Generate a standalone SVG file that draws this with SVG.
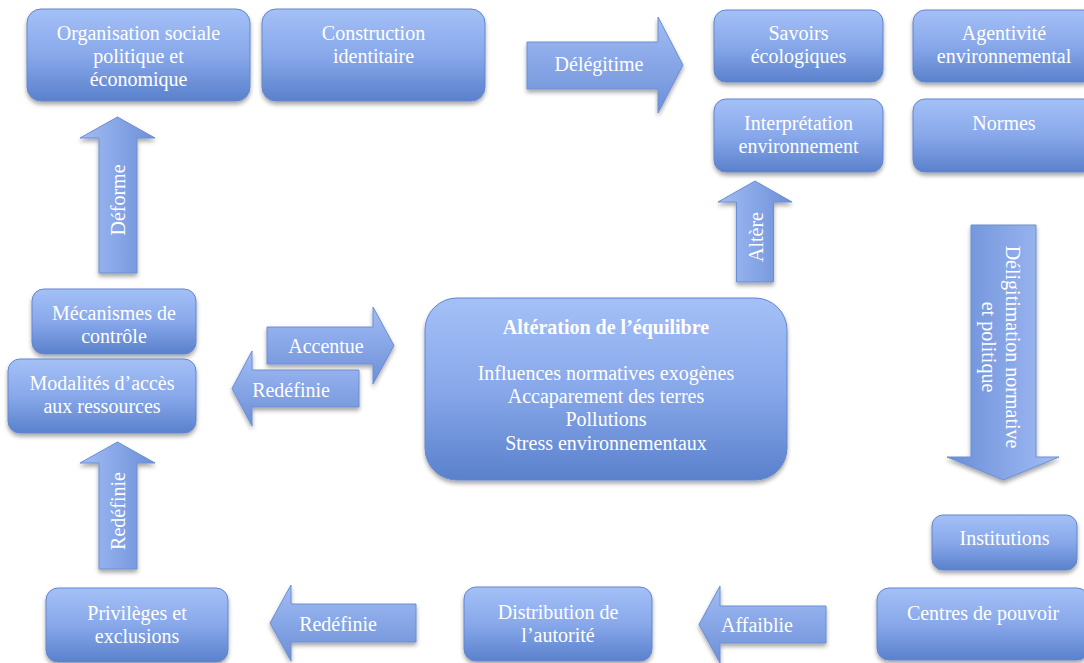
<svg xmlns="http://www.w3.org/2000/svg" width="1084" height="663" viewBox="0 0 1084 663">
<defs>
<linearGradient id="gBox" x1="0" y1="0" x2="0" y2="1">
<stop offset="0" stop-color="#a4c0f7"/>
<stop offset="0.5" stop-color="#88a8ea"/>
<stop offset="1" stop-color="#5a81cc"/>
</linearGradient>
<linearGradient id="gArrH" x1="0" y1="0" x2="0" y2="1">
<stop offset="0" stop-color="#a2bdf5"/>
<stop offset="1" stop-color="#6c8fd7"/>
</linearGradient>
<linearGradient id="gArrUp" x1="0" y1="0" x2="1" y2="0">
<stop offset="0" stop-color="#a2bdf5"/>
<stop offset="1" stop-color="#6c8fd7"/>
</linearGradient>
<linearGradient id="gArrDown" x1="0" y1="0" x2="1" y2="0">
<stop offset="0" stop-color="#6a8dd6"/>
<stop offset="1" stop-color="#a2bdf5"/>
</linearGradient>
<filter id="sh" x="-10%" y="-10%" width="120%" height="130%">
<feDropShadow dx="0" dy="3" stdDeviation="2" flood-color="#000" flood-opacity="0.35"/>
</filter>
</defs>
<style>
.box{fill:url(#gBox);stroke:#6285cf;stroke-width:1;filter:url(#sh)}
.arr{stroke:#6a8ed5;stroke-width:1;filter:url(#sh)}
.h{fill:url(#gArrH)}
.up{fill:url(#gArrUp)}
.dn{fill:url(#gArrDown)}
text{font-family:"Liberation Serif","Times New Roman",serif;font-size:20px;fill:#ffffff;text-anchor:middle}
.b{font-weight:bold}
</style>
<rect width="1084" height="663" fill="#ffffff"/>

<g id="connectors">
<polygon class="arr h" points="527,42 658,42 658,17 683,65 658,113 658,89 527,89"/>
<text x="599" y="71">Délégitime</text>
<polygon class="arr up" points="99,273 99,138 80,138 117.5,117 155,138 137,138 137,273"/>
<text transform="translate(119,200) rotate(-90)" x="0" y="6">Déforme</text>
<polygon class="arr up" points="736.5,282 736.5,202 718,202 755,181 792,202 773.5,202 773.5,282"/>
<text transform="translate(757,237) rotate(-90)" x="0" y="6">Altère</text>
<polygon class="arr dn" points="971,225 1036,225 1036,457 1059,457 1003.5,480 947,457 971,457"/>
<text transform="translate(1000,347) rotate(90)"><tspan x="0" y="-6">Déligitimation normative</tspan><tspan x="0" y="18">et politique</tspan></text>
<polygon class="arr h" points="267,327 373,327 373,307 394,345.5 373,384 373,364 267,364"/>
<text x="326" y="353">Accentue</text>
<polygon class="arr h" points="359,370 252,370 252,351 232,388.5 252,426 252,407 359,407"/>
<text x="291" y="397">Redéfinie</text>
<polygon class="arr up" points="99,569 99,463 80,463 117.5,442 155,463 137,463 137,569"/>
<text transform="translate(119,511) rotate(-90)" x="0" y="6">Redéfinie</text>
<polygon class="arr h" points="416,604 291,604 291,585 270,623 291,661 291,642 416,642"/>
<text x="338" y="631">Redéfinie</text>
<polygon class="arr h" points="826,606 720,606 720,586 699,624.5 720,663 720,643 826,643"/>
<text x="757" y="632">Affaiblie</text>
</g>

<g id="n-organisation">
<rect class="box" x="27" y="9" width="223" height="92" rx="14"/>
<text x="138.5" y="40">Organisation sociale</text>
<text x="138.5" y="63">politique et</text>
<text x="138.5" y="86">économique</text>
</g>
<g id="n-construction">
<rect class="box" x="262" y="9" width="223" height="92" rx="14"/>
<text x="373.5" y="40">Construction</text>
<text x="373.5" y="63">identitaire</text>
</g>
<g id="n-savoirs">
<rect class="box" x="714" y="10" width="169" height="72" rx="12"/>
<text x="798.5" y="40">Savoirs</text>
<text x="798.5" y="63">écologiques</text>
</g>
<g id="n-agentivite">
<rect class="box" x="913" y="10" width="182" height="72" rx="12"/>
<text x="1004" y="40">Agentivité</text>
<text x="1004" y="63">environnemental</text>
</g>
<g id="n-interpretation">
<rect class="box" x="714" y="99" width="169" height="73" rx="12"/>
<text x="798.5" y="130">Interprétation</text>
<text x="798.5" y="153">environnement</text>
</g>
<g id="n-normes">
<rect class="box" x="913" y="99" width="182" height="73" rx="12"/>
<text x="1004" y="130">Normes</text>
</g>
<g id="n-mecanismes">
<rect class="box" x="32" y="289" width="164" height="65" rx="12"/>
<text x="114" y="320">Mécanismes de</text>
<text x="114" y="343">contrôle</text>
</g>
<g id="n-modalites">
<rect class="box" x="8" y="359" width="188" height="74" rx="12"/>
<text x="102" y="390">Modalités d’accès</text>
<text x="102" y="413">aux ressources</text>
</g>
<g id="n-alteration">
<rect class="box" x="425" y="298" width="362" height="182" rx="32"/>
<text class="b" x="606" y="334">Altération de l’équilibre</text>
<text x="606" y="380">Influences normatives exogènes</text>
<text x="606" y="403">Accaparement des terres</text>
<text x="606" y="426">Pollutions</text>
<text x="606" y="450">Stress environnementaux</text>
</g>
<g id="n-privileges">
<rect class="box" x="46" y="588" width="182" height="74" rx="12"/>
<text x="137" y="620">Privilèges et</text>
<text x="137" y="643">exclusions</text>
</g>
<g id="n-distribution">
<rect class="box" x="464" y="587" width="188" height="74" rx="12"/>
<text x="558" y="619">Distribution de</text>
<text x="558" y="642">l’autorité</text>
</g>
<g id="n-institutions">
<rect class="box" x="932" y="515" width="145" height="55" rx="11"/>
<text x="1004.5" y="545">Institutions</text>
</g>
<g id="n-centres">
<rect class="box" x="877" y="588" width="212" height="72" rx="12"/>
<text x="983" y="620">Centres de pouvoir</text>
</g>
</svg>
